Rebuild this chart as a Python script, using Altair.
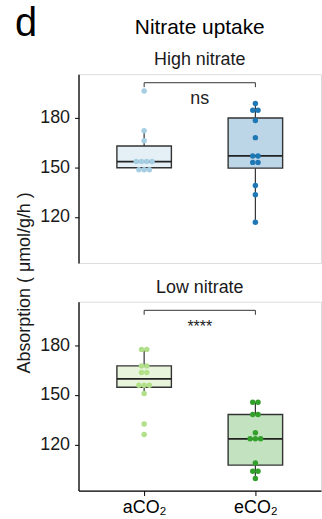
import altair as alt
import pandas as pd
import numpy as np

# ---------------- data ----------------
panels = ["High nitrate", "Low nitrate"]
groups = ["aCO₂", "eCO₂"]

high_aco2 = [196.3, 172.2, 166.1, 153.5, 153.5, 153.5, 153.5, 148.5, 148.5, 148.5]
high_eco2 = [188.7, 184.6, 184.6, 178.4, 168.0, 156.9, 156.9, 153.0, 153.0, 139.0, 133.4, 116.7]
low_aco2 = [177.6, 177.6, 167.6, 167.6, 163.6, 163.6, 155.9, 155.9, 155.9, 150.9, 132.4, 126.0]
low_eco2 = [145.5, 145.5, 138.1, 138.1, 127.0, 123.4, 123.4, 123.4, 108.7, 103.7, 103.7, 99.3]

dot_colors = [["#a6cee3", "#1f78b4"], ["#b2df8a", "#33a02c"]]
fill_colors = [["#e4f0f6", "#bcd6e8"], ["#e8f5dc", "#c2e2c0"]]
signif = ["ns", "****"]

series = [[high_aco2, high_eco2], [low_aco2, low_eco2]]

FONT = "Liberation Sans"
DOT_STEP = 0.0474      # horizontal dot spacing (x units)
HALF_BOX = 0.245       # half box width (x units)
Y_DOMAIN = [92, 206.5]
X_DOMAIN = [-0.59, 1.59]
W, H = 244, 190


def make_frames(pi):
    dots, boxes = [], []
    for gi, vals in enumerate(series[pi]):
        arr = np.array(vals, dtype=float)
        # dot-plot stacking: identical bins spread horizontally
        uniq = sorted(set(vals), reverse=True)
        for u in uniq:
            k = vals.count(u)
            for j in range(k):
                dots.append({"gx": gi + (j - (k - 1) / 2) * DOT_STEP, "v": u,
                             "color": dot_colors[pi][gi]})
        q1, med, q3 = np.percentile(arr, [25, 50, 75])
        iqr = q3 - q1
        lo = arr[arr >= q1 - 1.5 * iqr].min()
        hi = arr[arr <= q3 + 1.5 * iqr].max()
        boxes.append({"gi": gi, "left": gi - HALF_BOX, "right": gi + HALF_BOX,
                      "q1": q1, "q3": q3, "med": med, "lo": lo, "hi": hi,
                      "fill": fill_colors[pi][gi]})
    return pd.DataFrame(dots), pd.DataFrame(boxes)


def panel(pi):
    dots, boxes = make_frames(pi)
    bottom = pi == len(panels) - 1
    xscale = alt.Scale(domain=X_DOMAIN, nice=False, zero=False)
    yscale = alt.Scale(domain=Y_DOMAIN, nice=False, zero=False)
    if bottom:
        label_expr = "datum.value == 0 ? '%s' : '%s'" % (groups[0], groups[1])
        xaxis = alt.Axis(values=[0, 1], labelExpr=label_expr, title=None, grid=False,
                         tickSize=5, tickColor="black", domainColor="black",
                         domainWidth=1.3, labelFontSize=18, labelColor="black",
                         labelFont=FONT, labelPadding=3)
    else:
        xaxis = None
    yaxis = alt.Axis(values=[120, 150, 180], title=None, grid=False, tickSize=4,
                     tickColor="black", domainColor="black", domainWidth=1.3,
                     labelFontSize=18, labelColor="#1a1a1a", labelFont=FONT,
                     labelPadding=5)

    def X(f):
        return alt.X(f, scale=xscale, axis=xaxis)

    def Y(f):
        return alt.Y(f, scale=yscale, axis=yaxis)

    whisk = alt.Chart(boxes).mark_rule(color="#333333", strokeWidth=1.2).encode(
        x=X("gi:Q"), y=Y("lo:Q"), y2="hi:Q")
    box = alt.Chart(boxes).mark_rect(stroke="#333333", strokeWidth=1.4).encode(
        x=X("left:Q"), x2="right:Q", y=Y("q1:Q"), y2="q3:Q",
        fill=alt.Fill("fill:N", scale=None))
    med = alt.Chart(boxes).mark_rule(color="#222222", strokeWidth=1.7).encode(
        x=X("left:Q"), x2="right:Q", y=Y("med:Q"))
    pts = alt.Chart(dots).mark_circle(size=30, opacity=1).encode(
        x=X("gx:Q"), y=Y("v:Q"), color=alt.Color("color:N", scale=None))

    br = pd.DataFrame({"bx0": [0], "bx1": [1], "by": [201.3], "bt": [198.6],
                       "tx": [0.5], "ty": [188.3], "txt": [signif[pi]]})
    br_h = alt.Chart(br).mark_rule(color="#333333", strokeWidth=1).encode(
        x=X("bx0:Q"), x2="bx1:Q", y=Y("by:Q"))
    br_l = alt.Chart(br).mark_rule(color="#333333", strokeWidth=1).encode(
        x=X("bx0:Q"), y=Y("bt:Q"), y2="by:Q")
    br_r = alt.Chart(br).mark_rule(color="#333333", strokeWidth=1).encode(
        x=X("bx1:Q"), y=Y("bt:Q"), y2="by:Q")
    ann = alt.Chart(br).mark_text(font=FONT, fontSize=18 if pi == 0 else 16,
                                  baseline="alphabetic", color="#222222").encode(
        x=X("tx:Q"), y=Y("ty:Q"), text="txt:N")

    head = alt.Chart(br).mark_text(font=FONT, fontSize=18, baseline="alphabetic",
                                   color="#1a1a1a").encode(
        x=alt.value(W / 2), y=alt.value(-9), text=alt.value(panels[pi]))

    layers = [whisk, box, med, pts, br_h, br_l, br_r, ann, head]

    if pi == 0:
        title = alt.Chart(br).mark_text(font=FONT, fontSize=21, baseline="alphabetic",
                                        color="black").encode(
            x=alt.value(W / 2), y=alt.value(-40), text=alt.value("Nitrate uptake"))
        letter = alt.Chart(br).mark_text(font=FONT, fontSize=40, baseline="alphabetic",
                                         align="left", color="black").encode(
            x=alt.value(-64), y=alt.value(-38), text=alt.value("d"))
        ytitle = alt.Chart(br).mark_text(font=FONT, fontSize=18, angle=270,
                                         baseline="middle", color="#1a1a1a").encode(
            x=alt.value(-53.5), y=alt.value(210),
            text=alt.value("Absorption ( μmol/g/h )"))
        layers += [title, letter, ytitle]

    return alt.layer(*layers).properties(width=W, height=H)


chart = alt.vconcat(panel(0), panel(1), spacing=39, bounds="flush").properties(
    padding={"left": 14, "top": 2, "right": 0, "bottom": 0}
).configure_view(stroke=None).configure(font=FONT)

chart.save("out.html", embed_options={"renderer": "svg", "actions": False})
